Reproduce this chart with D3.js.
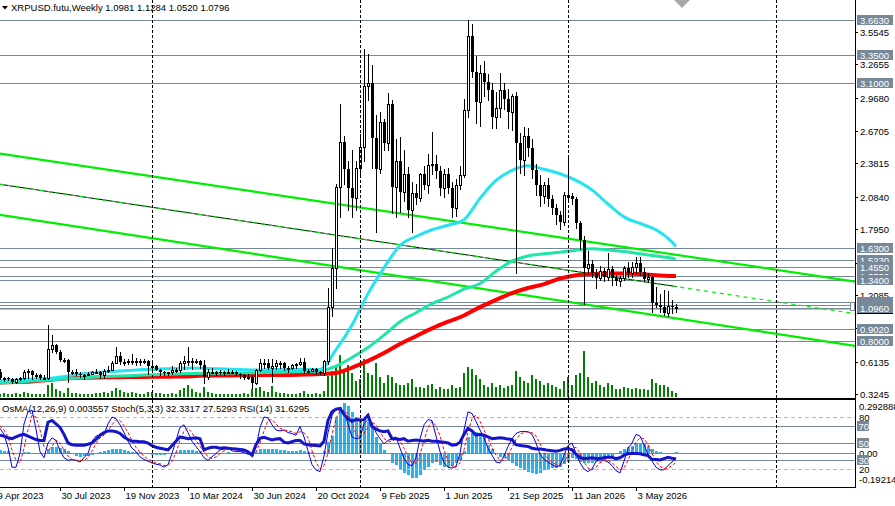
<!DOCTYPE html>
<html>
<head>
<meta charset="utf-8">
<script src="https://cdnjs.cloudflare.com/ajax/libs/d3/7.8.5/d3.min.js"></script>
<style>
  body { margin: 0; background: #fff; }
  svg { display: block; }
  text { font-family: "Liberation Sans", Arial, sans-serif; font-size: 9.5px; }
</style>
</head>
<body>
<script>
const WIDTH = 895;
const HEIGHT = 506;
const PLOT_RIGHT = 855;
const MAIN_BOTTOM = 398;
const IND_TOP = 400;
const IND_BOTTOM = 487;

// weekly bars, first one opens on this Sunday
const firstWeek = "2023-04-16";

// [open, high, low, close]
const candles = [
  [0.52,0.55,0.46,0.47],[0.47,0.48,0.44,0.47],[0.47,0.48,0.45,0.46],[0.46,0.47,0.42,0.43],[0.43,0.47,0.42,0.46],
  [0.46,0.48,0.45,0.47],[0.47,0.54,0.46,0.52],[0.52,0.55,0.47,0.53],[0.53,0.54,0.46,0.49],[0.49,0.51,0.47,0.49],
  [0.49,0.50,0.46,0.47],[0.47,0.49,0.46,0.47],[0.47,0.94,0.46,0.73],[0.73,0.85,0.70,0.76],[0.76,0.77,0.69,0.70],
  [0.70,0.72,0.62,0.63],[0.63,0.65,0.61,0.63],[0.63,0.64,0.43,0.52],[0.52,0.54,0.50,0.52],[0.52,0.55,0.49,0.50],
  [0.50,0.52,0.48,0.49],[0.49,0.50,0.46,0.49],[0.49,0.52,0.49,0.50],[0.50,0.53,0.50,0.52],[0.52,0.55,0.51,0.52],
  [0.52,0.53,0.47,0.49],[0.49,0.55,0.47,0.53],[0.53,0.57,0.52,0.54],[0.54,0.62,0.54,0.60],[0.60,0.74,0.60,0.66],
  [0.66,0.70,0.59,0.61],[0.61,0.64,0.58,0.61],[0.61,0.64,0.59,0.62],[0.62,0.68,0.59,0.62],[0.62,0.65,0.58,0.62],
  [0.62,0.64,0.58,0.62],[0.62,0.64,0.60,0.62],[0.62,0.63,0.50,0.57],[0.57,0.62,0.54,0.57],[0.57,0.58,0.54,0.54],
  [0.54,0.55,0.49,0.52],[0.52,0.53,0.49,0.51],[0.51,0.52,0.49,0.52],[0.52,0.57,0.50,0.54],[0.54,0.56,0.52,0.54],
  [0.54,0.62,0.52,0.60],[0.60,0.66,0.55,0.62],[0.62,0.74,0.58,0.62],[0.62,0.65,0.55,0.62],[0.62,0.64,0.60,0.62],
  [0.62,0.63,0.56,0.58],[0.58,0.63,0.42,0.48],[0.48,0.55,0.46,0.52],[0.52,0.56,0.51,0.52],[0.52,0.53,0.49,0.52],
  [0.52,0.54,0.50,0.51],[0.51,0.53,0.49,0.52],[0.52,0.55,0.51,0.52],[0.52,0.54,0.51,0.52],[0.52,0.53,0.49,0.50],
  [0.50,0.51,0.47,0.49],[0.49,0.50,0.46,0.47],[0.47,0.50,0.46,0.48],[0.48,0.49,0.38,0.42],[0.42,0.55,0.41,0.54],
  [0.54,0.64,0.53,0.60],[0.60,0.64,0.56,0.60],[0.60,0.64,0.55,0.56],[0.56,0.64,0.43,0.57],[0.57,0.63,0.55,0.60],
  [0.60,0.62,0.56,0.60],[0.60,0.61,0.54,0.56],[0.56,0.57,0.52,0.56],[0.56,0.59,0.55,0.58],[0.58,0.60,0.56,0.59],
  [0.59,0.65,0.58,0.61],[0.61,0.65,0.51,0.53],[0.53,0.55,0.52,0.53],[0.53,0.56,0.53,0.55],[0.55,0.56,0.50,0.52],
  [0.52,0.53,0.50,0.51],[0.51,0.63,0.49,0.62],[0.62,1.27,0.59,1.10],[1.10,1.63,1.02,1.45],[1.45,2.20,1.27,2.17],
  [2.17,2.91,1.90,2.57],[2.57,2.63,2.20,2.33],[2.33,2.40,1.97,2.16],[2.16,2.50,1.90,2.07],[2.07,2.40,1.97,2.34],
  [2.34,2.64,2.28,2.53],[2.53,3.40,2.40,3.07],[3.07,3.36,2.95,3.10],[3.10,3.26,2.34,2.61],[2.61,2.81,1.77,2.33],
  [2.33,2.84,2.30,2.75],[2.75,2.78,2.50,2.56],[2.56,3.01,2.50,2.91],[2.91,2.95,1.94,2.17],[2.17,2.60,1.90,2.40],
  [2.40,2.62,1.95,2.13],[2.13,2.50,2.05,2.29],[2.29,2.35,1.90,1.97],[1.97,2.22,1.77,2.12],[2.12,2.20,2.02,2.07],
  [2.07,2.30,2.05,2.29],[2.29,2.36,2.15,2.19],[2.19,2.47,2.12,2.37],[2.37,2.66,2.29,2.38],[2.38,2.46,2.25,2.31],
  [2.31,2.36,2.10,2.16],[2.16,2.33,2.08,2.29],[2.29,2.34,2.12,2.16],[2.16,2.22,1.90,1.98],[1.98,2.24,1.91,2.19],
  [2.19,2.36,2.15,2.28],[2.28,2.96,2.26,2.86],[2.86,3.66,2.80,3.52],[3.52,3.63,3.15,3.20],[3.20,3.34,2.74,2.93],
  [2.93,3.26,2.72,3.19],[3.19,3.30,2.98,3.11],[3.11,3.18,2.95,3.04],[3.04,3.10,2.70,2.80],[2.80,3.02,2.70,2.88],
  [2.88,3.19,2.80,3.04],[3.04,3.10,2.87,2.96],[2.96,3.05,2.70,2.84],[2.84,3.00,2.68,2.98],[2.98,3.02,1.40,2.56],
  [2.56,2.65,2.30,2.41],[2.41,2.71,2.28,2.63],[2.63,2.70,2.45,2.52],[2.52,2.60,2.25,2.32],[2.32,2.38,2.10,2.19],
  [2.19,2.28,2.00,2.09],[2.09,2.22,2.03,2.19],[2.19,2.25,2.00,2.06],[2.06,2.10,1.93,1.98],[1.98,2.02,1.84,1.92],
  [1.92,1.96,1.80,1.86],[1.86,2.13,1.83,2.10],[2.08,2.44,2.04,2.10],[2.09,2.12,2.02,2.06],[2.06,2.08,1.81,1.85],
  [1.85,1.87,1.62,1.70],[1.70,1.73,1.13,1.45],[1.45,1.60,1.40,1.48],[1.48,1.52,1.37,1.40],[1.40,1.44,1.27,1.36],
  [1.36,1.47,1.34,1.42],[1.42,1.45,1.33,1.37],[1.37,1.58,1.34,1.44],[1.44,1.47,1.30,1.36],[1.36,1.39,1.30,1.33],
  [1.33,1.38,1.29,1.36],[1.36,1.47,1.34,1.45],[1.45,1.50,1.37,1.40],[1.40,1.50,1.37,1.46],[1.46,1.55,1.40,1.49],
  [1.49,1.55,1.39,1.41],[1.41,1.45,1.33,1.35],[1.35,1.40,1.32,1.37],[1.37,1.38,1.06,1.14],[1.14,1.28,1.10,1.12],
  [1.12,1.22,1.06,1.10],[1.10,1.25,1.03,1.05],[1.05,1.24,1.02,1.11],[1.11,1.16,1.05,1.10],[1.0981,1.1284,1.0520,1.0796]
];

const volumes = [
  6,8,6,6,8,6,10,8,6,6,6,6,24,28,16,
  12,8,18,8,8,6,6,6,6,8,8,10,8,12,
  18,14,10,8,10,8,6,6,10,
  10,8,8,6,6,8,6,14,18,24,16,10,8,
  20,10,8,6,6,6,6,6,6,6,8,6,
  16,18,20,12,10,22,10,8,8,6,6,6,8,12,6,6,8,6,12,
  42,52,60,84,56,64,48,32,36,76,48,44,68,40,28,44,40,28,24,24,
  28,36,20,20,18,24,26,16,20,16,16,24,18,20,48,60,56,44,36,24,
  20,28,20,24,18,22,24,52,40,32,28,44,36,32,24,28,24,20,16,32,
  40,24,44,48,92,40,28,32,24,20,28,24,16,16,20,18,16,18,16,16,
  14,36,28,24,24,20,12,8
];

const stochK = [
  67,60,45,22,22,38,72,86,88,66,40,33,50,56,53,
  41,33,30,31,30,28,33,38,52,58,59,60,72,80,78,71,62,52,44,40,
  34,31,29,27,25.5,24.6,22,25,38,53,68,71,62,52,46,40,33,30,34,38,
  42,43,44,41,40,40,39,37.5,36,45,68,80,79,71,65,64,65,62,61,59,69,
  57,41,25,19,17,35,62,82,89,90,86,72,57,55,56,72,77,73,62,55,
  49,53,55,57,44,32,25,24,33,55,71,77,76,58,40,27,22,21,23,38,
  65,86,84,75,65,56,44,36,28,27,35,46,55,61,63,63.5,63,60,50,37,
  31,28,25,22.6,24,36,47,50,38,27,20,17,20,29,31,30,28,24,18,15.5,
  29,44,50,60,58,48,37,29,22,19,19,24,28,32.33
];

const stochD = [
  70,65,57,42,30,27,44,65,82,80,65,46,41,46,53,
  50,42,35,31,30,30,30,33,41,49,56,59,64,71,77,76,70,62,53,45,
  39,35,31,29,27,26,24,24,29,39,53,64,67,62,53,46,40,34,32,34,
  38,41,43,43,42,40,40,39,37.5,39.5,50,64,76,77,72,67,65,64,63,61,
  63,62,56,41,28,20,24,38,60,78,87,88,83,72,61,56,61,68,74,71,
  63,55,52,52,55,52,44,34,27,27,37,53,68,75,70,58,42,30,23,22,
  27,42,63,78,82,75,65,55,45,36,30,30,36,45,54,60,62,63,62,58,
  49,39,32,28,25,24,28,36,44,45,38,28,21,19,22,27,30,30,27,23,
  19,21,30,41,51,56,55,48,38,29,23,20,21,24,27.53
];

const rsi = [
  59,58,56,55,57,59,60,58,56,54,53,
  53,74,76,72,68,60,50,48,47.5,47.5,47.5,48.5,
  50,54,59,62,64,64,63,61,57,54,52,52,51.5,51.5,50,47,45,44,43,42,
  47,52,57,56,55,55.5,56,55,42,44,45,45,44,44.5,44,43.5,43,42.5,42,40,
  36,48,55.5,56.5,55,53.5,54.5,55,51,50,51.5,53,53,
  49,48,47.5,47,46.5,52,76,86,89,90,83,78,75,77,76.5,77,82,69,66,64,
  63,64,55,55,54,55,52,53,53.5,53,52,53,52,52,51.5,51,50,47.5,48,51,
  60,67,64,59,60,59,57,55,55.5,56,55.5,54.5,54,48,47,46.5,46,44,43,43,
  42.5,41.5,41,40.5,41.5,43,43.5,42,37,33,32,32.5,33,32,32,33,33.5,33.5,32,33,
  36,37.5,38,38,37.5,36.5,35.5,31,31,30.5,32,33.5,32.5,31.63
];

const osma = [
  0.012,0.010,0.006,-0.004,-0.008,-0.004,0.002,0.004,0.000,-0.004,-0.006,-0.006,
  0.022,0.030,0.032,0.028,0.020,0.010,
  -0.010,-0.020,-0.025,-0.022,-0.018,-0.012,-0.006,0.002,0.006,
  0.012,0.018,0.022,0.018,0.012,0.008,0.005,0.003,0.001,
  -0.004,-0.008,-0.012,-0.014,-0.014,-0.012,-0.008,-0.003,
  0.004,0.012,0.016,0.016,0.012,0.009,0.006,-0.004,
  -0.006,-0.006,-0.004,-0.002,0.000,0.001,0.000,-0.003,-0.006,-0.010,-0.014,-0.020,
  0.004,0.018,0.022,0.022,0.018,0.018,0.016,0.012,0.010,0.010,0.010,0.012,
  0.010,0.005,0.002,-0.002,-0.004,0.010,0.060,0.090,0.200,0.255,
  0.274,0.260,0.225,0.200,0.181,0.180,0.170,0.140,0.085,0.045,
  0.015,-0.010,-0.060,-0.070,-0.090,-0.115,-0.128,-0.144,-0.144,-0.125,
  -0.100,-0.080,-0.060,-0.055,-0.070,-0.080,-0.079,-0.075,-0.060,-0.040,
  0.010,0.088,0.107,0.116,0.105,0.085,0.040,0.020,-0.005,-0.023,
  -0.028,-0.040,-0.060,-0.075,-0.088,-0.100,-0.110,-0.116,-0.120,-0.116,
  -0.100,-0.090,-0.088,-0.085,-0.079,-0.065,-0.050,-0.030,-0.035,-0.050,
  -0.060,-0.060,-0.060,-0.055,-0.050,-0.040,-0.030,-0.020,-0.010,0.010,
  0.020,0.030,0.035,0.045,0.050,0.045,0.035,0.020,0.010,0.005,
  0.000,-0.002,0.000,0.003557
];

// moving averages, read every 4th bar (bar index into candles)
const maBars = [0,4,8,12,16,20,24,28,32,36,40,44,48,52,56,60,64,68,72,76,80,
  84,88,92,96,100,104,108,112,116,120,124,128,132,136,140,144,148,152,156,160,164,168,169];
const maCyan = [0.441,0.45,0.459,0.463,0.48,0.503,0.516,0.525,0.534,0.543,0.547,0.552,0.556,0.552,0.547,0.543,0.538,0.543,0.543,0.543,0.543,
  0.72,0.94,1.22,1.45,1.65,1.73,1.79,1.83,1.88,2.07,2.23,2.32,2.36,2.33,2.29,2.23,2.145,2.02,1.905,1.846,1.79,1.68,1.64];
const maTeal = [0.423,0.432,0.44,0.449,0.458,0.467,0.476,0.482,0.488,0.494,0.498,0.503,0.507,0.509,0.51,0.512,0.514,0.517,0.52,0.525,0.53,
  0.574,0.65,0.74,0.85,0.97,1.05,1.13,1.19,1.26,1.31,1.42,1.51,1.556,1.575,1.59,1.608,1.62,1.61,1.595,1.575,1.555,1.535,1.526];
const maRed = [0.427,0.432,0.437,0.45,0.463,0.468,0.472,0.474,0.476,0.477,0.479,0.48,0.483,0.49,0.49,0.491,0.492,0.494,0.495,0.498,0.502,
  0.512,0.56,0.62,0.69,0.77,0.84,0.91,0.97,1.025,1.10,1.165,1.225,1.27,1.305,1.355,1.385,1.395,1.40,1.40,1.395,1.385,1.378,1.377];

// channel: [start date, start price, end date, end price]
const channelUpper = ["2023-04-16", 2.470, "2027-05-23", 1.326];
const channelLower = ["2023-04-16", 1.922, "2027-05-23", 0.753];
const channelMid   = ["2023-04-16", 2.196, "2027-05-23", 1.040];

const levels = [3.6630, 3.3500, 3.1000, 1.6300, 1.5230, 1.4550, 1.3730, 1.3400, 1.1450, 1.1200, 1.0960, 0.9020, 0.8000];
const priceTicks = [3.5545, 3.2655, 2.9680, 2.6705, 2.3815, 2.0840, 1.7950, 1.4975, 1.2085, 0.9110, 0.6135, 0.3245];
const bidPrice = 1.0796;

const dateTicks = ["2023-04-09","2023-07-30","2023-11-19","2024-03-10","2024-06-30","2024-10-20",
  "2025-02-09","2025-06-01","2025-09-21","2026-01-11","2026-05-03"];
const dateLabels = ["9 Apr 2023","30 Jul 2023","19 Nov 2023","10 Mar 2024","30 Jun 2024","20 Oct 2024",
  "9 Feb 2025","1 Jun 2025","21 Sep 2025","11 Jan 2026","3 May 2026"];
const gridDates = ["2024-01-07","2025-01-05","2026-01-04","2027-01-03"];

const title = "XRPUSD.futu,Weekly  1.0981 1.1284 1.0520 1.0796";
const indTitle = "OsMA(12,26,9) 0.003557  Stoch(5,3,3) 32.3317 27.5293  RSI(14) 31.6295";
const oscLevels = [70, 50, 30];
const oscDashed = [80, 20];
const osmaRange = [-0.19214, 0.292888];

const parse = d3.utcParse("%Y-%m-%d");
const weeks = candles.map((c, i) => d3.utcDay.offset(parse(firstWeek), 7 * i));

const x = d3.scaleUtc()
  .domain([weeks[0], weeks[weeks.length - 1]])
  .range([0, 676]);
const y = d3.scaleLinear().domain([0.3245, 3.5545]).range([394, 32]);
const yVol = d3.scaleLinear().domain([0, 100]).range([397, 347]);
const yOsc = d3.scaleLinear().domain([0, 100]).range([486.3, 399.7]);
const yOsma = d3.scaleLinear().domain(osmaRange).range([IND_BOTTOM, IND_TOP]);

const px = d => Math.round(x(d));

const svg = d3.select("body").append("svg")
  .attr("width", WIDTH)
  .attr("height", HEIGHT);

svg.append("defs").append("clipPath").attr("id", "mainClip")
  .append("rect").attr("x", 0).attr("y", 0).attr("width", PLOT_RIGHT).attr("height", MAIN_BOTTOM);
svg.select("defs").append("clipPath").attr("id", "dataClip")
  .append("rect").attr("x", 0).attr("y", 0).attr("width", x(weeks[weeks.length - 1]) + 1).attr("height", MAIN_BOTTOM);
svg.select("defs").append("clipPath").attr("id", "indClip")
  .append("rect").attr("x", 0).attr("y", IND_TOP).attr("width", PLOT_RIGHT).attr("height", IND_BOTTOM - IND_TOP);

const main = svg.append("g").attr("clip-path", "url(#mainClip)");
const ind = svg.append("g").attr("clip-path", "url(#indClip)");

// vertical dashed grid
gridDates.forEach(d => {
  const gx = px(parse(d)) + 0.5;
  svg.append("line")
    .attr("x1", gx).attr("x2", gx).attr("y1", 0).attr("y2", IND_BOTTOM)
    .attr("stroke", "#000").attr("stroke-dasharray", "3,2");
});

// volumes
main.append("g").selectAll("rect")
  .data(volumes)
  .enter()
  .append("rect")
  .attr("x", (v, i) => px(weeks[i]) - 1)
  .attr("y", v => yVol(v))
  .attr("width", 2)
  .attr("height", v => yVol(0) - yVol(v))
  .attr("fill", "#008000")
  .attr("shape-rendering", "crispEdges");

// horizontal levels
main.append("g").selectAll("line")
  .data(levels)
  .enter()
  .append("line")
  .attr("x1", 0).attr("x2", PLOT_RIGHT)
  .attr("y1", d => Math.round(y(d)) + 0.5)
  .attr("y2", d => Math.round(y(d)) + 0.5)
  .attr("stroke", "#778899");
main.append("line")
  .attr("x1", 0).attr("x2", PLOT_RIGHT)
  .attr("y1", Math.round(y(bidPrice)) + 0.5).attr("y2", Math.round(y(bidPrice)) + 0.5)
  .attr("stroke", "#c0c0c0");

// trend channel
const seg = s => [[x(parse(s[0])), y(s[1])], [x(parse(s[2])), y(s[3])]];
const line2 = d3.line();
[channelUpper, channelLower].forEach(s => {
  main.append("path").attr("d", line2(seg(s)))
    .attr("stroke", "#00ee00").attr("stroke-width", 2.2).attr("fill", "none");
});
main.append("path").attr("d", line2(seg(channelMid)))
  .attr("clip-path", "url(#dataClip)")
  .attr("stroke", "#000").attr("stroke-width", 1).attr("fill", "none");
main.append("path").attr("d", line2(seg(channelMid)))
  .attr("stroke", "#00ee00").attr("stroke-width", 1.2).attr("stroke-dasharray", "4,4").attr("fill", "none");

// moving averages
const maLine = d3.line()
  .x(d => x(weeks[d[0]]))
  .y(d => y(d[1]))
  .curve(d3.curveMonotoneX);
[[maRed, "#ff0000", 4], [maTeal, "#1ee6a8", 3], [maCyan, "#24e4f0", 3]].forEach(([vals, col, w]) => {
  main.append("path")
    .attr("d", maLine(maBars.map((b, j) => [b, vals[j]])))
    .attr("stroke", col).attr("stroke-width", w).attr("fill", "none");
});

// candles
const cg = main.append("g").attr("shape-rendering", "crispEdges");
candles.forEach((c, i) => {
  const cx = px(weeks[i]);
  const [o, h, l, cl] = c;
  cg.append("line")
    .attr("x1", cx + 0.5).attr("x2", cx + 0.5)
    .attr("y1", Math.round(y(h))).attr("y2", Math.round(y(l)) + 1)
    .attr("stroke", "#000");
  const top = Math.round(y(Math.max(o, cl)));
  const bot = Math.round(y(Math.min(o, cl)));
  if (cl >= o) {
    cg.append("rect")
      .attr("x", cx - 0.5).attr("y", top + 0.5)
      .attr("width", 2).attr("height", Math.max(bot - top, 1))
      .attr("fill", "#fff").attr("stroke", "#000");
  } else {
    cg.append("rect")
      .attr("x", cx - 1).attr("y", top)
      .attr("width", 3).attr("height", Math.max(bot - top, 1))
      .attr("fill", "#000");
  }
});

// indicator window
ind.append("g").selectAll("rect")
  .data(osma)
  .enter()
  .append("rect")
  .attr("x", (v, i) => px(weeks[i]) - 1)
  .attr("y", v => Math.min(yOsma(v), yOsma(0)))
  .attr("width", 3)
  .attr("height", v => Math.abs(yOsma(v) - yOsma(0)))
  .attr("fill", "#22b4ea")
  .attr("shape-rendering", "crispEdges");

oscDashed.forEach(v => {
  ind.append("line").attr("x1", 0).attr("x2", PLOT_RIGHT)
    .attr("y1", Math.round(yOsc(v)) + 0.5).attr("y2", Math.round(yOsc(v)) + 0.5)
    .attr("stroke", "#b8b8b8").attr("stroke-dasharray", "4,3");
});
oscLevels.forEach(v => {
  ind.append("line").attr("x1", 0).attr("x2", PLOT_RIGHT)
    .attr("y1", Math.round(yOsc(v)) + 0.5).attr("y2", Math.round(yOsc(v)) + 0.5)
    .attr("stroke", "#778899");
});
ind.append("line").attr("x1", 0).attr("x2", PLOT_RIGHT)
  .attr("y1", Math.round(yOsma(0)) + 0.5).attr("y2", Math.round(yOsma(0)) + 0.5)
  .attr("stroke", "#778899");

const oscLine = d3.line().x((v, i) => x(weeks[i])).y(v => yOsc(v));
ind.append("path").attr("d", oscLine(stochK))
  .attr("stroke", "#0000ff").attr("stroke-width", 1).attr("fill", "none");
ind.append("path").attr("d", oscLine(stochD))
  .attr("stroke", "#ff0000").attr("stroke-width", 1).attr("stroke-dasharray", "3,2").attr("fill", "none");
ind.append("path").attr("d", oscLine(rsi))
  .attr("stroke", "#1414c8").attr("stroke-width", 3).attr("fill", "none");

ind.append("text").attr("x", 2).attr("y", 412).text(indTitle);

// frame
svg.append("g").attr("stroke", "#000").attr("shape-rendering", "crispEdges").call(g => {
  g.append("line").attr("x1", PLOT_RIGHT + 0.5).attr("x2", PLOT_RIGHT + 0.5).attr("y1", 0).attr("y2", IND_BOTTOM + 1);
  g.append("line").attr("x1", 0).attr("x2", PLOT_RIGHT).attr("y1", MAIN_BOTTOM + 0.5).attr("y2", MAIN_BOTTOM + 0.5);
  g.append("line").attr("x1", 0).attr("x2", PLOT_RIGHT).attr("y1", IND_TOP - 0.5).attr("y2", IND_TOP - 0.5);
  g.append("line").attr("x1", 0).attr("x2", PLOT_RIGHT + 1).attr("y1", IND_BOTTOM + 0.5).attr("y2", IND_BOTTOM + 0.5);
});

// title
svg.append("path").attr("d", "M2,6 L8,6 L5,9.5 Z").attr("fill", "#000");
svg.append("text").attr("x", 11).attr("y", 11).text(title);
// chart shift marker
svg.append("path").attr("d", "M674,0 L690,0 L682,8 Z").attr("fill", "#a8a8a8");

// right price scale
const axisG = svg.append("g");
priceTicks.forEach(p => {
  const ty = Math.round(y(p)) + 0.5;
  axisG.append("line").attr("x1", PLOT_RIGHT).attr("x2", PLOT_RIGHT + 3).attr("y1", ty).attr("y2", ty).attr("stroke", "#000");
  axisG.append("text").attr("x", 860).attr("y", ty + 3.5).text(p.toFixed(4));
});
const tag = (p, bg) => {
  const ty = Math.round(y(p));
  axisG.append("rect").attr("x", 857).attr("y", ty - 5).attr("width", 36).attr("height", 10).attr("fill", bg);
  axisG.append("text").attr("x", 860).attr("y", ty + 3.5).attr("fill", "#fff").text(p.toFixed(4));
};
tag(bidPrice, "#000");
levels.forEach(p => tag(p, "#778899"));
svg.append("rect").attr("x", 850.5).attr("y", 302.5).attr("width", 4).attr("height", 8)
  .attr("fill", "#fff").attr("stroke", "#778899");

// indicator scale
svg.append("text").attr("x", 859).attr("y", 409.5).text(osmaRange[1].toString());
svg.append("text").attr("x", 859).attr("y", 482.5).text(osmaRange[0].toString());
svg.append("text").attr("x", 859).attr("y", Math.round(yOsma(0)) + 3.5).text("0.00");
oscDashed.forEach(v => {
  svg.append("text").attr("x", 859).attr("y", Math.round(yOsc(v)) + 3.5).text(v);
});
oscLevels.forEach(v => {
  const ty = Math.round(yOsc(v));
  svg.append("rect").attr("x", 857).attr("y", ty - 5).attr("width", 12).attr("height", 10).attr("fill", "#778899");
  svg.append("text").attr("x", 858.5).attr("y", ty + 3.5).attr("fill", "#fff").text(v);
});

// time scale
dateTicks.forEach((d, i) => {
  const tx = px(parse(d)) + 0.5;
  svg.append("line").attr("x1", tx).attr("x2", tx).attr("y1", IND_BOTTOM).attr("y2", IND_BOTTOM + 4).attr("stroke", "#000");
  svg.append("text").attr("x", tx + 1).attr("y", 498.5).text(dateLabels[i]);
});
</script>
</body>
</html>
